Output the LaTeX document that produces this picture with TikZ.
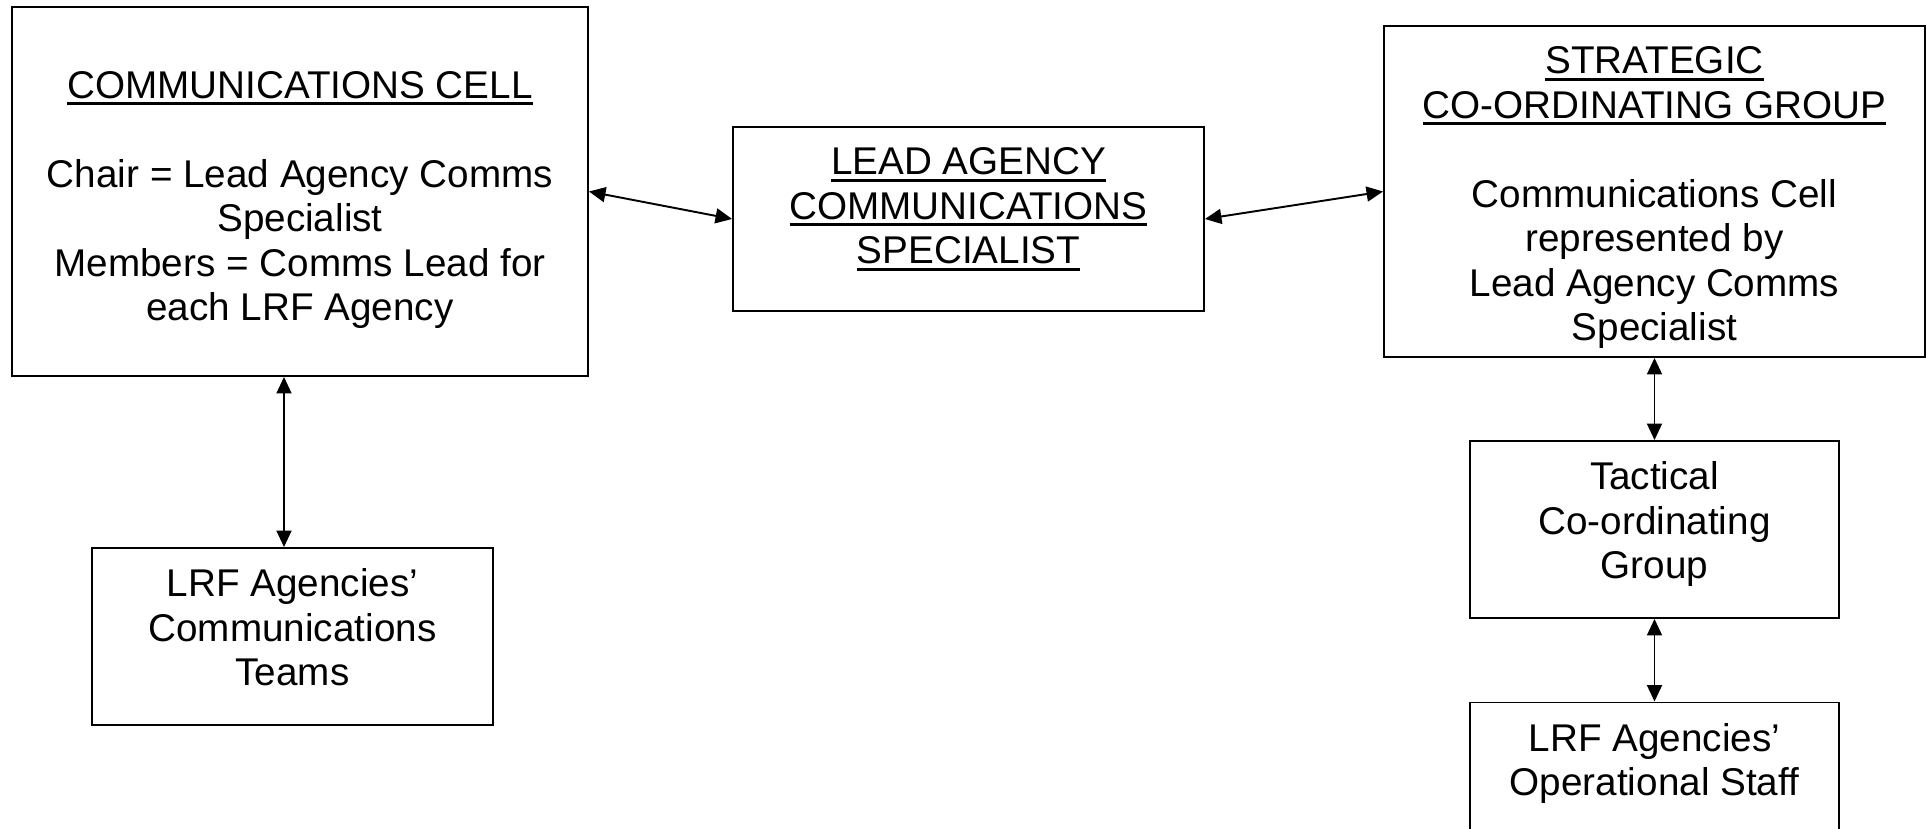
\documentclass[tikz,border=0pt]{standalone}
\usepackage{fontspec}
\setmainfont{Liberation Sans}
\usetikzlibrary{arrows.meta,positioning,calc}
% underlined heading line
\newcommand{\hdline}[1]{\setbox0=\hbox{#1}\rlap{\rule[-3.9pt]{\wd0}{1.7pt}}\box0}
\tikzset{
  unit/.style n args={2}{draw=black,line width=1.1pt,minimum width=#1,minimum height=#2,inner sep=0pt},
  txt/.style={align=center,inner sep=0pt,font=\fontsize{22}{25.3}\selectfont},
  link/.style={{Triangle[length=0.33cm,width=0.3cm]}-{Triangle[length=0.33cm,width=0.3cm]},line width=1.1pt},
}

\begin{document}
\begin{tikzpicture}
  \clip (0,0) rectangle (38.52,-16.58);
  % boxes
  \node[unit={11.52cm}{7.38cm}] (cell)  at (6.00,-3.83)  {};
  \node[unit={9.42cm}{3.68cm}]  (lead)  at (19.37,-4.38) {};
  \node[unit={10.82cm}{6.62cm}] (scg)   at (33.09,-3.83) {};
  \node[unit={7.38cm}{3.54cm}]  (tcg)   at (33.09,-10.59) {};
  \node[unit={7.38cm}{3.54cm}]  (ops)   at (33.09,-15.82) {};
  \node[unit={8.02cm}{3.54cm}]  (teams) at (5.85,-12.73)  {};
  % texts hang from the top of each box
  \node[txt,below=1.30cm of cell.north] (celltxt) {\hdline{COMMUNICATIONS CELL}\\[25.3pt]
    Chair = Lead Agency Comms\\ Specialist\\ Members = Comms Lead for\\ each LRF Agency};
  \node[txt,below=0.43cm of lead.north] (leadtxt) {\hdline{LEAD AGENCY}\\ \hdline{COMMUNICATIONS}\\ \hdline{SPECIALIST}};
  \node[txt,below=0.43cm of scg.north] (scgtxt) {\hdline{STRATEGIC}\\ \hdline{CO-ORDINATING GROUP}\\[25.3pt]
    Communications Cell\\ represented by\\ Lead Agency Comms\\ Specialist};
  \node[txt,below=0.43cm of tcg.north] (tcgtxt) {Tactical\\ Co-ordinating\\ Group};
  \node[txt,below=0.43cm of ops.north] (opstxt) {LRF Agencies’\\ Operational Staff};
  \node[txt,below=0.43cm of teams.north] (teamstxt) {LRF Agencies’\\ Communications\\ Teams};
  % links
  \draw[link] (cell.east) -- (lead.west);
  \draw[link] (lead.east) -- (scg.west);
  \draw[link] (scg.south) -- (tcg.north);
  \draw[link] (tcg.south) -- (ops.north);
  \coordinate (tup) at ($(teams.north)+(-0.17,0)$);
  \draw[link] (tup |- cell.south) -- (tup);
\end{tikzpicture}
\end{document}
